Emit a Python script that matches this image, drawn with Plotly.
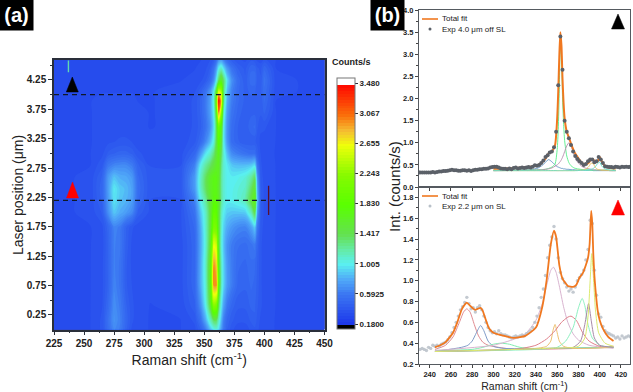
import plotly.graph_objects as go

W, H = 633, 392
FONT = "Liberation Sans"
AXC = "#2a2f3a"

# ---------- panel (a) map ----------
raman_x = [225,255,265,270,275,280,285,290,295,305,330,342,347,351,355,358,360,362,364,366,369,373,378,384,389,392,394,397,400,410,450]
laser_y = [0.0,0.15,0.4,0.75,1.1,1.45,1.75,2.0,2.2,2.4,2.6,2.8,3.0,3.2,3.45,3.7,3.9,4.05,4.25,4.45,4.6]
counts = [
[.32,.33,.38,.52,.66,.60,.46,.36,.34,.33,.33,.36,.45,.60,.85,1.00,1.05,.95,.75,.58,.45,.38,.35,.35,.38,.40,.38,.36,.34,.33,.32],
[.32,.33,.38,.54,.70,.62,.48,.38,.34,.33,.33,.38,.54,.78,1.10,1.35,1.35,1.10,.85,.62,.48,.42,.38,.38,.42,.44,.40,.36,.34,.33,.32],
[.32,.33,.37,.50,.68,.60,.46,.38,.35,.33,.34,.44,.68,.98,1.45,2.2,2.1,1.35,1.0,.76,.58,.47,.42,.42,.46,.46,.42,.38,.35,.33,.32],
[.32,.33,.36,.46,.64,.56,.42,.37,.35,.34,.35,.48,.80,1.05,1.6,2.95,2.95,1.7,1.15,.92,.72,.60,.48,.46,.50,.48,.44,.38,.35,.33,.32],
[.32,.33,.36,.46,.62,.56,.42,.36,.34,.34,.35,.48,.80,1.08,1.6,2.95,2.8,1.6,1.15,.92,.72,.60,.50,.48,.52,.50,.45,.38,.35,.33,.32],
[.32,.33,.35,.46,.62,.58,.44,.36,.34,.34,.35,.48,.78,1.05,1.5,2.6,2.5,1.5,1.08,.88,.70,.60,.54,.52,.56,.60,.48,.38,.35,.33,.32],
[.32,.33,.36,.48,.64,.60,.46,.38,.35,.34,.36,.50,.80,1.08,1.45,2.1,2.05,1.5,1.12,.92,.80,.72,.66,.64,.76,.90,.60,.40,.35,.33,.32],
[.32,.34,.42,.68,.88,.80,.74,.66,.44,.36,.36,.55,.88,1.10,1.45,1.9,1.85,1.5,1.15,1.0,.90,.88,.88,.90,1.15,1.45,.75,.42,.36,.33,.32],
[.32,.34,.46,.72,.96,.86,.82,.74,.50,.37,.37,.62,1.0,1.2,1.5,1.75,1.75,1.6,1.25,1.08,1.0,1.0,1.05,1.15,1.45,1.7,.85,.42,.36,.33,.32],
[.32,.34,.48,.74,.98,.88,.84,.76,.52,.38,.38,.72,1.1,1.35,1.6,1.7,1.7,1.55,1.25,1.08,1.0,1.0,1.05,1.1,1.35,1.55,.80,.42,.36,.33,.32],
[.32,.34,.46,.72,.86,.80,.78,.72,.50,.38,.38,.72,1.1,1.35,1.6,1.7,1.7,1.6,1.25,1.08,1.0,.98,1.0,1.05,1.2,1.35,.72,.40,.35,.33,.32],
[.32,.33,.40,.58,.64,.66,.66,.60,.46,.37,.37,.62,1.0,1.2,1.35,1.5,1.6,1.65,1.3,1.08,.98,.88,.85,.85,.88,.95,.58,.38,.35,.33,.32],
[.32,.33,.36,.42,.45,.47,.47,.44,.38,.35,.35,.48,.72,.95,1.1,1.3,1.5,1.7,1.4,1.08,.85,.66,.60,.55,.52,.52,.44,.37,.34,.33,.32],
[.32,.33,.34,.36,.37,.38,.38,.37,.35,.34,.34,.40,.50,.65,.85,1.05,1.4,1.85,1.55,1.0,.72,.52,.46,.42,.42,.42,.40,.36,.35,.33,.32],
[.32,.33,.34,.35,.35,.35,.35,.35,.34,.33,.34,.38,.44,.55,.70,.95,1.35,2.05,1.7,1.0,.70,.52,.45,.42,.48,.50,.42,.38,.38,.33,.32],
[.32,.33,.34,.35,.35,.35,.35,.34,.34,.33,.34,.38,.46,.58,.75,1.0,1.5,3.0,2.3,1.1,.74,.56,.48,.42,.44,.44,.42,.42,.46,.33,.32],
[.32,.33,.34,.34,.34,.34,.34,.34,.33,.33,.34,.38,.46,.58,.75,1.05,1.7,3.45,2.8,1.25,.80,.60,.50,.44,.44,.44,.42,.42,.50,.33,.32],
[.32,.33,.33,.33,.33,.33,.33,.33,.33,.33,.34,.37,.44,.55,.72,1.0,1.5,2.6,2.4,1.3,.85,.62,.50,.44,.46,.46,.42,.44,.52,.34,.32],
[.32,.33,.33,.33,.33,.33,.33,.33,.33,.33,.33,.34,.36,.40,.50,.68,.95,1.35,1.6,1.35,.95,.68,.52,.42,.52,.52,.44,.42,.55,.34,.32],
[.32,.33,.33,.33,.33,.33,.33,.33,.33,.33,.33,.33,.34,.36,.42,.55,.72,1.0,1.1,.95,.72,.55,.45,.40,.48,.48,.42,.40,.48,.33,.32],
[.32,.33,.33,.33,.33,.33,.33,.33,.33,.33,.33,.33,.33,.34,.37,.42,.52,.68,.72,.62,.50,.42,.38,.36,.40,.38,.36,.35,.38,.33,.32],
]
cbar_ticks = [0.18,0.5925,1.005,1.417,1.83,2.243,2.655,3.067,3.48]
cbar_labels = ["0.1800","0.5925","1.005","1.417","1.830","2.243","2.655","3.067","3.480"]
scale_values = [0.18,0.5925,0.8,1.005,1.2,1.417,1.83,2.243,2.655,2.85,3.067,3.48]
scale_colors = ["rgb(28,55,235)","rgb(60,120,242)","rgb(80,170,248)","rgb(90,240,240)","rgb(100,235,170)",
                "rgb(100,225,80)","rgb(90,255,0)","rgb(135,250,0)","rgb(240,255,10)","rgb(245,190,50)",
                "rgb(250,110,10)","rgb(255,10,0)"]

# ---------- panel (b) top: 4.0 um ----------
exp_x = list(range(231, 431, 2))
exp_top = [.33,.33,.33,.33,.33,.33,.34,.33,.34,.35,
           .35,.36,.36,.37,.38,.39,.38,.38,.37,.37,
           .38,.38,.37,.38,.36,.38,.39,.39,.40,.40,
           .41,.41,.42,.44,.45,.46,.46,.44,.42,.41,
           .41,.40,.42,.40,.43,.44,.42,.43,.44,.43,
           .44,.45,.44,.46,.49,.48,.50,.54,.60,.68,
           .72,.78,.80,.90,1.25,2.3,3.4,2.65,1.5,1.25,
           1.10,.95,.80,.70,.63,.58,.54,.50,.52,.58,
           .62,.62,.56,.58,.68,.62,.54,.47,.46,.45,
           .45,.44,.46,.45,.44,.46,.45,.46,.45,.46]
fit_top_x = [300,320,335,342,346,349,352,355,358,360,361,362,363,364,365,366,367,369,371,373,376,379,382,385,388,390,392,394,396,398,400,402,405,410,415]
fit_top = [.41,.43,.46,.50,.56,.64,.76,.80,.95,1.55,2.15,2.95,3.5,3.2,2.45,1.9,1.55,1.25,1.12,.98,.80,.68,.58,.52,.52,.56,.62,.62,.56,.58,.68,.58,.47,.43,.42]
top_green = [.38,.38,.385,.39,.395,.40,.42,.45,.52,.85,1.3,2.2,3.18,3.0,2.05,1.45,1.05,.70,.55,.48,.43,.41,.40,.39,.385,.385,.38,.38,.38,.38,.38,.38,.38,.38,.38]
top_mauve = [.37,.375,.38,.385,.39,.40,.41,.43,.47,.50,.52,.55,.58,.62,.67,.73,.80,.93,1.0,.93,.72,.57,.49,.44,.42,.41,.40,.39,.39,.38,.38,.38,.38,.37,.37]
top_blue = [.37,.375,.39,.43,.49,.56,.62,.57,.50,.46,.45,.44,.43,.42,.42,.41,.41,.40,.40,.39,.39,.38,.38,.38,.38,.38,.38,.37,.37,.37,.37,.37,.37,.37,.37]
top_yellow = [.37,.37,.37,.37,.37,.37,.37,.37,.37,.37,.37,.37,.37,.37,.37,.37,.37,.37,.37,.37,.37,.38,.38,.39,.42,.47,.54,.52,.44,.40,.39,.38,.38,.37,.37]
top_cyan = [.37,.37,.37,.37,.37,.37,.37,.37,.37,.37,.37,.37,.37,.37,.37,.37,.37,.37,.37,.37,.37,.37,.38,.38,.38,.39,.40,.42,.46,.53,.56,.47,.41,.38,.37]

# ---------- panel (b) bottom: 2.2 um ----------
exp_bot = [.34,.35,.34,.33,.36,.35,.38,.37,.38,.37,
           .39,.40,.41,.43,.46,.50,.55,.60,.66,.72,
           .75,.79,.84,.78,.73,.74,.70,.74,.76,.72,
           .66,.60,.55,.52,.50,.51,.49,.52,.49,.48,
           .48,.47,.46,.45,.46,.47,.46,.47,.48,.47,
           .49,.50,.52,.55,.60,.66,.74,.84,.92,1.05,
           1.22,1.34,1.42,1.52,1.40,1.22,1.08,1.02,.98,.94,
           .90,.92,.89,.94,1.0,1.03,1.06,1.10,1.20,1.30,
           1.58,1.55,1.10,.86,.68,.65,.56,.52,.50,.49,
           .48,.47,.45,.46,.44,.47,.45,.46,.47,.46]
fit_bot_x = [245,250,255,262,266,270,273,275,278,280,283,285,288,290,292,296,300,310,320,330,340,346,350,354,357,359,362,365,370,375,378,381,384,387,389,390.5,392,393,394,395,396,398,400,403,408,413]
fit_bot = [.36,.38,.41,.50,.60,.72,.77,.79,.76,.74,.72,.73,.74,.71,.65,.54,.50,.47,.45,.47,.55,.75,1.0,1.35,1.48,1.42,1.15,1.02,.95,.94,.96,1.03,1.07,1.15,1.22,1.35,1.67,1.55,1.25,1.05,.92,.72,.62,.54,.46,.42]

c1_x = [245,255,262,268,272,275,278,282,286,290,295,305,320,413]
c1_y = [.34,.38,.46,.60,.70,.73,.70,.58,.47,.41,.38,.36,.34,.36]
c2_x = [245,270,276,280,284,288,291,295,300,310,413]
c2_y = [.32,.36,.38,.42,.50,.57,.52,.42,.37,.35,.36]
c3_x = [245,280,290,300,307,315,325,335,413]
c3_y = [.33,.34,.36,.39,.40,.39,.36,.35,.36]
c4_x = [245,300,320,330,340,346,350,354,356.5,359,362,366,370,375,380,390,413]
c4_y = [.33,.38,.44,.49,.62,.78,.95,1.1,1.13,1.08,.95,.75,.60,.49,.43,.38,.35]
c5_x = [245,340,350,354,356,358,360,362,366,375,413]
c5_y = [.32,.35,.37,.42,.52,.58,.50,.42,.37,.35,.36]
c6_x = [245,320,340,350,358,364,370,373,378,384,390,400,413]
c6_y = [.32,.34,.38,.44,.52,.60,.65,.66,.62,.50,.42,.37,.37]
c7_x = [245,340,360,368,375,380,383.5,386,389,393,400,413]
c7_y = [.32,.34,.36,.42,.55,.74,.83,.76,.58,.45,.38,.36]
c8_x = [245,350,375,382,386,389.5,392,395,400,413]
c8_y = [.32,.35,.36,.42,.58,.78,.62,.45,.38,.36]
c9_x = [245,350,380,386,389,391,392.5,394,396,399,405,413]
c9_y = [.32,.35,.37,.45,.65,1.0,1.26,1.05,.72,.50,.40,.37]

# ---------- helpers ----------
def px(x): return x / W
def py(y): return 1 - y / H

zlo, zhi = 0.1115, 3.5485
span = zhi - zlo
def nv(v): return (v - zlo) / span
colorscale = [[0, "#000000"], [nv(0.18), "#000000"]]
colorscale += [[nv(v), c] for v, c in zip(scale_values, scale_colors)]
colorscale += [[nv(3.48) + 1e-4, "#ffffff"], [1, "#ffffff"]]

fig = go.Figure()
fig.add_trace(go.Contour(
    x=raman_x, y=laser_y, z=counts, xaxis="x", yaxis="y",
    colorscale=colorscale, zmin=zlo, zmax=zhi, autocontour=False,
    contours=dict(start=0.1315, end=3.5285, size=0.04, coloring="fill", showlines=False),
    line=dict(width=0), hoverinfo="skip",
    colorbar=dict(x=px(337), xanchor="left", xpad=0, y=py(329), yanchor="bottom", ypad=0,
                  thicknessmode="pixels", thickness=18, lenmode="pixels", len=251,
                  tickmode="array", tickvals=cbar_ticks, ticktext=cbar_labels,
                  ticks="outside", ticklen=3, tickcolor=AXC, outlinecolor="#777777", outlinewidth=1,
                  tickfont=dict(family=FONT, size=8, color="#222222", weight=700)),
))
fig.add_trace(go.Scatter(x=[403.5, 403.5], y=[1.95, 2.45], mode="lines", xaxis="x", yaxis="y",
                         line=dict(color="#5a1030", width=1.3), showlegend=False))
fig.add_trace(go.Scatter(x=[237, 237], y=[4.38, 4.58], mode="lines", xaxis="x", yaxis="y",
                         line=dict(color="#60d8b0", width=1.4), showlegend=False))

# top spectra
for ys, col in [(top_blue, "#5f93c4"), (top_green, "#55ee88"), (top_mauve, "#b58cab"),
                (top_yellow, "#e9c45e"), (top_cyan, "#63dcc8")]:
    fig.add_trace(go.Scatter(x=fit_top_x, y=ys, mode="lines", xaxis="x2", yaxis="y2", showlegend=False,
                             line=dict(color=col, width=0.9, shape="spline", smoothing=0.6)))
fig.add_trace(go.Scatter(x=fit_top_x, y=fit_top, mode="lines", xaxis="x2", yaxis="y2", showlegend=False,
                         line=dict(color="#f07820", width=2, shape="spline", smoothing=0.6)))
fig.add_trace(go.Scatter(x=exp_x, y=exp_top, mode="markers", xaxis="x2", yaxis="y2", showlegend=False,
                         marker=dict(color="#5b6068", size=4)))

# bottom spectra
for xs, ys, col in [(c1_x, c1_y, "#e08a90"), (c2_x, c2_y, "#7f9cc8"), (c3_x, c3_y, "#80eeb0"),
                    (c4_x, c4_y, "#d9b4d0"), (c5_x, c5_y, "#eec070"), (c6_x, c6_y, "#e0808a"),
                    (c7_x, c7_y, "#8cf0c0"), (c8_x, c8_y, "#a88aa8"), (c9_x, c9_y, "#dcea70")]:
    fig.add_trace(go.Scatter(x=xs, y=ys, mode="lines", xaxis="x3", yaxis="y3", showlegend=False,
                             line=dict(color=col, width=1, shape="spline", smoothing=0.6)))
fig.add_trace(go.Scatter(x=exp_x, y=exp_bot, mode="markers", xaxis="x3", yaxis="y3", showlegend=False,
                         marker=dict(color="#b8c0c8", size=3.4, opacity=0.85)))
fig.add_trace(go.Scatter(x=fit_bot_x, y=fit_bot, mode="lines", xaxis="x3", yaxis="y3", showlegend=False,
                         line=dict(color="#f07820", width=1.8, shape="spline", smoothing=0.5)))

ax_a = dict(showgrid=False, zeroline=False, showline=True, mirror=True, linecolor=AXC, linewidth=1.5,
            ticks="outside", ticklen=4, tickwidth=1.2, tickcolor=AXC,
            tickfont=dict(family=FONT, size=10, color="#222222", weight=700))
ax_b = dict(showgrid=False, zeroline=False, showline=True, mirror=True, linecolor="#555a60", linewidth=1,
            ticks="outside", ticklen=3, tickwidth=1, tickcolor="#444444",
            tickfont=dict(family=FONT, size=7.5, color="#222222", weight=700))

fig.update_layout(
    width=W, height=H, margin=dict(l=0, r=0, t=0, b=0, autoexpand=False),
    paper_bgcolor="white", plot_bgcolor="white", showlegend=False,
    font=dict(family=FONT, color="#222222"),
    xaxis=dict(ax_a, domain=[px(54), px(324.5)], anchor="y", range=[225, 450], tick0=225, dtick=25,
               minor=dict(dtick=12.5, ticks="outside", ticklen=2, tickcolor=AXC),
               title=dict(text="Raman shift (cm<sup>-1</sup>)", font=dict(size=14, family=FONT), standoff=7)),
    yaxis=dict(ax_a, domain=[py(329.5), py(60)], anchor="x", range=[0.003, 4.59], tick0=0.25, dtick=0.5,
               tickformat=".2f", minor=dict(dtick=0.25, tick0=0.25, ticks="outside", ticklen=2, tickcolor=AXC)),
    xaxis2=dict(ax_b, domain=[px(419), px(630)], anchor="y2", range=[230, 428.5], tick0=240, dtick=20,
                showticklabels=False),
    yaxis2=dict(ax_b, domain=[py(187), py(10)], anchor="x2", range=[0, 4], dtick=0.5, tickformat=".1f",
                minor=dict(dtick=0.25, ticks="outside", ticklen=2, tickcolor="#444444")),
    xaxis3=dict(ax_b, domain=[px(419), px(630)], anchor="y3", range=[230, 428.5], tick0=240, dtick=20,
                minor=dict(dtick=10, ticks="outside", ticklen=2, tickcolor="#444444"),
                title=dict(text="Raman shift (cm<sup>-1</sup>)", font=dict(size=10.5, family=FONT), standoff=3)),
    yaxis3=dict(ax_b, domain=[py(364), py(187)], anchor="x3", range=[0.2, 1.9], tick0=0.2, dtick=0.2,
                tickformat=".1f", minor=dict(dtick=0.1, tick0=0.2, ticks="outside", ticklen=2, tickcolor="#444444")),
)

def tri(cx, top, bottom, half, color):
    return dict(type="path", xref="paper", yref="paper",
                path=f"M {px(cx-half)},{py(bottom)} L {px(cx+half)},{py(bottom)} L {px(cx)},{py(top)} Z",
                fillcolor=color, line=dict(color=color, width=0.5))

shapes = [
    dict(type="line", xref="x", yref="y", x0=225, x1=450, y0=4.0, y1=4.0,
         line=dict(color="#101828", width=1.4, dash="5px,4px")),
    dict(type="line", xref="x", yref="y", x0=225, x1=450, y0=2.2, y1=2.2,
         line=dict(color="#101828", width=1.4, dash="5px,4px")),
    tri(72.3, 77, 92, 6, "#000000"),
    tri(72.5, 182, 198, 6, "#ff0000"),
    tri(618, 14, 29, 6.5, "#000000"),
    tri(618, 200, 215, 6.5, "#ff0000"),
    dict(type="line", xref="paper", yref="paper", x0=px(422), x1=px(438), y0=py(19), y1=py(19),
         line=dict(color="#f07820", width=1.6)),
    dict(type="line", xref="paper", yref="paper", x0=px(422), x1=px(438), y0=py(196), y1=py(196),
         line=dict(color="#f07820", width=1.6)),
    dict(type="circle", xref="paper", yref="paper", x0=px(428.5), x1=px(431.5), y0=py(30.5), y1=py(27.5),
         fillcolor="#5b6068", line=dict(width=0)),
    dict(type="circle", xref="paper", yref="paper", x0=px(428.5), x1=px(431.5), y0=py(207.5), y1=py(204.5),
         fillcolor="#b8c0c8", line=dict(width=0)),
]

def note(text, x, y, size, xanchor="left", **kw):
    return dict(text=text, xref="paper", yref="paper", x=px(x), y=py(y), xanchor=xanchor, yanchor="middle",
                showarrow=False, font=dict(family=kw.pop("family", FONT), size=size,
                                           color=kw.pop("color", "#222222"), weight=kw.pop("weight", 400)), **kw)

annotations = [
    note("(a)", 16.5, 15, 20, xanchor="center", color="white", bgcolor="black", width=31, height=28, weight=700),
    note("(b)", 387, 15, 20, xanchor="center", color="white", bgcolor="black", width=31, height=28, weight=700),
    note("Counts/s", 330, 62, 9, weight=700),
    note("Laser position (\u03bcm)", 18, 195, 14, xanchor="center", textangle=-90),
    note("Int. (counts/s)", 394, 187, 15, xanchor="center", textangle=-90),
    note("Total fit", 440, 19, 8),
    note("Exp 4.0 \u03bcm off SL", 440, 29, 8),
    note("Total fit", 440, 196, 8),
    note("Exp 2.2 \u03bcm on SL", 440, 206, 8),
]
fig.update_layout(shapes=shapes, annotations=annotations)
fig.write_html("out.html", config={"displayModeBar": False},
               post_script="document.body.style.margin='0';document.body.style.overflow='hidden';")
